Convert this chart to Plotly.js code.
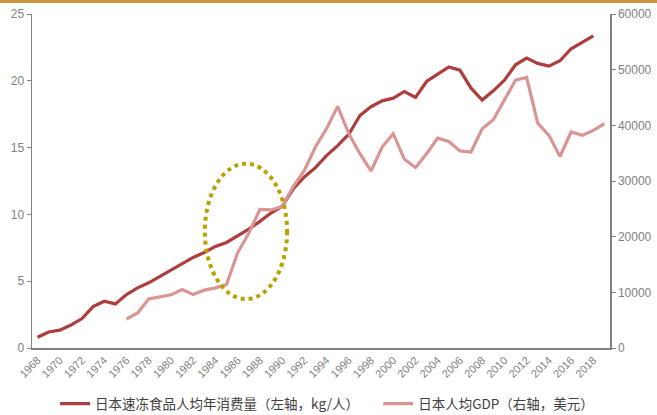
<!DOCTYPE html>
<html>
<head>
<meta charset="utf-8">
<script src="https://cdn.plot.ly/plotly-3.0.1.min.js"></script>
<style>
  html, body { margin: 0; padding: 0; background: #fff; }
  #wrap { position: relative; width: 657px; height: 415px; }
  #topbar { position: absolute; left: 0; top: 0; width: 657px; height: 3px; background: #C9953D; z-index: 5; }
  #chart { position: absolute; left: 0; top: 0; width: 657px; height: 415px; }
</style>
</head>
<body>
<div id="wrap"><div id="topbar"></div><div id="chart"></div></div>
<script>
// Years
const foodYears = [1968,1969,1970,1971,1972,1973,1974,1975,1976,1977,1978,1979,1980,1981,1982,1983,1984,1985,1986,1987,1988,1989,1990,1991,1992,1993,1994,1995,1996,1997,1998,1999,2000,2001,2002,2003,2004,2005,2006,2007,2008,2009,2010,2011,2012,2013,2014,2015,2016,2017,2018];
// Japan frozen food consumption per capita (kg/person), left axis
const foodValues = [0.8,1.2,1.34,1.72,2.2,3.1,3.5,3.3,4.0,4.5,4.88,5.37,5.87,6.3,6.78,7.15,7.6,7.9,8.4,8.9,9.48,10.1,10.6,11.9,12.8,13.5,14.4,15.15,16.0,17.4,18.06,18.5,18.7,19.2,18.75,19.95,20.5,21.04,20.8,19.45,18.56,19.25,20.05,21.2,21.7,21.3,21.1,21.5,22.4,22.86,23.36];

const gdpYears = [1976,1977,1978,1979,1980,1981,1982,1983,1984,1985,1986,1987,1988,1989,1990,1991,1992,1993,1994,1995,1996,1997,1998,1999,2000,2001,2002,2003,2004,2005,2006,2007,2008,2009,2010,2011,2012,2013,2014,2015,2016,2017,2018,2019];
// Japan GDP per capita (USD), right axis
const gdpValues = [5200,6300,8800,9200,9550,10500,9600,10400,10800,11400,17100,20600,24900,24800,25400,29000,31900,36100,39400,43400,38500,34900,31800,36100,38500,33900,32400,34900,37700,37100,35400,35200,39400,41000,44500,48100,48600,40400,38200,34400,38800,38200,39100,40300];

const foodName = '日本速冻食品人均年消费量（左轴，kg/人）';
const gdpName = '日本人均GDP（右轴，美元）';

const tickYears = [];
for (let y = 1968; y <= 2018; y += 2) tickYears.push(y);

const traces = [
  { x: foodYears, y: foodValues, name: foodName, type: 'scatter', mode: 'lines',
    line: { color: '#AD3E3D', width: 3.2 }, yaxis: 'y', legend: 'legend' },
  { x: gdpYears, y: gdpValues, name: gdpName, type: 'scatter', mode: 'lines',
    line: { color: '#D99593', width: 3.2 }, yaxis: 'y2', legend: 'legend2' }
];

const tickFont = { family: 'Liberation Sans, Arial, sans-serif', size: 12, color: '#808080' };
const legendFont = { family: 'Noto Sans CJK SC, sans-serif', size: 13.5, color: '#404040' };

const layout = {
  width: 657, height: 415,
  margin: { l: 32, r: 47, t: 13.5, b: 67, autoexpand: false },
  paper_bgcolor: '#fff', plot_bgcolor: '#fff',
  showlegend: true,
  legend: {
    orientation: 'h', x: 0.040, xanchor: 'left', y: -0.167, yanchor: 'middle',
    font: legendFont, itemwidth: 30
  },
  legend2: {
    orientation: 'h', x: 0.599, xanchor: 'left', y: -0.167, yanchor: 'middle',
    font: legendFont, itemwidth: 30
  },
  xaxis: {
    range: [1967.5, 2019.5], tickmode: 'array', tickvals: tickYears,
    ticktext: tickYears.map(String), tickangle: -45, automargin: false,
    tickfont: { family: 'Liberation Sans, Arial, sans-serif', size: 11, color: '#808080' },
    showgrid: false, zeroline: false, showline: true, linecolor: '#808080', linewidth: 1.5,
    ticks: '', fixedrange: true
  },
  yaxis: {
    range: [0, 25], dtick: 5, tick0: 0, showgrid: false, zeroline: false, automargin: false,
    showline: true, linecolor: '#808080', linewidth: 1.5, ticks: 'outside', ticklen: 4,
    tickcolor: '#808080', tickfont: tickFont
  },
  yaxis2: {
    range: [0, 60000], dtick: 10000, tick0: 0, overlaying: 'y', side: 'right', automargin: false,
    showgrid: false, zeroline: false, showline: true, linecolor: '#808080', linewidth: 1.5,
    ticks: 'outside', ticklen: 4, tickcolor: '#808080', tickfont: tickFont,
    tickformat: 'd'
  },
  shapes: [
    { type: 'circle', xref: 'x', yref: 'y', x0: 1983.05, x1: 1990.45, y0: 3.66, y1: 13.8,
      line: { color: '#B9A100', width: 4, dash: 'dot' }, fillcolor: 'rgba(0,0,0,0)' }
  ]
};

Plotly.newPlot('chart', traces, layout, { displayModeBar: false, staticPlot: true });
</script>
</body>
</html>
